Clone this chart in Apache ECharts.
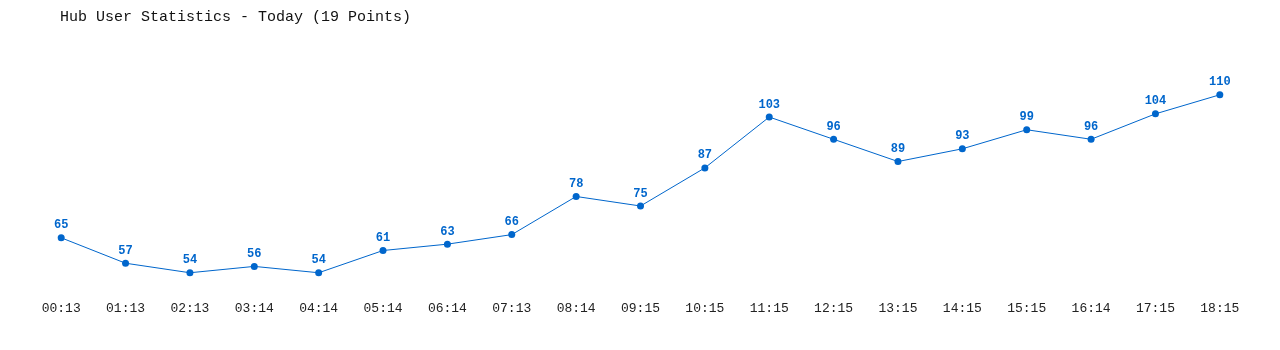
<!DOCTYPE html>
<html>
<head>
<meta charset="utf-8">
<script src="https://cdn.jsdelivr.net/npm/echarts@6/dist/echarts.min.js"></script>
<style>
html,body{margin:0;padding:0;background:#fff;}
#chart{width:1280px;height:350px;}
</style>
</head>
<body>
<div id="chart"></div>
<script>
const titleText = "Hub User Statistics - Today (19 Points)";
const categories = ["00:13","01:13","02:13","03:14","04:14","05:14","06:14","07:13","08:14","09:15","10:15","11:15","12:15","13:15","14:15","15:15","16:14","17:15","18:15"];
const users = [65,57,54,56,54,61,63,66,78,75,87,103,96,89,93,99,96,104,110];

const chart = echarts.init(document.getElementById('chart'), null, {renderer:'canvas'});
chart.setOption({
  animation: false,
  backgroundColor: '#ffffff',
  title: {
    text: titleText,
    left: 55,
    top: 5,
    textStyle: {fontFamily: 'Liberation Mono, DejaVu Sans Mono, monospace', fontSize: 15, fontWeight: 'normal', color: '#111'}
  },
  grid: {left: 29, right: 28, top: 63, bottom: 55},
  xAxis: {
    type: 'category',
    data: categories,
    boundaryGap: true,
    axisLine: {show: false},
    axisTick: {show: false},
    axisLabel: {margin: 7, fontFamily: 'Liberation Mono, DejaVu Sans Mono, monospace', fontSize: 13, color: '#222', interval: 0}
  },
  yAxis: {
    type: 'value',
    min: 47,
    max: 120,
    show: false,
    splitLine: {show: false}
  },
  series: [{
    type: 'line',
    data: users,
    symbol: 'circle',
    symbolSize: 7,
    lineStyle: {color: '#0066cc', width: 1},
    itemStyle: {color: '#0066cc'},
    label: {
      show: true,
      position: 'top',
      distance: 3,
      fontFamily: 'Liberation Mono, DejaVu Sans Mono, monospace',
      fontSize: 12,
      fontWeight: 'bold',
      color: '#0066cc'
    }
  }]
});
</script>
</body>
</html>
